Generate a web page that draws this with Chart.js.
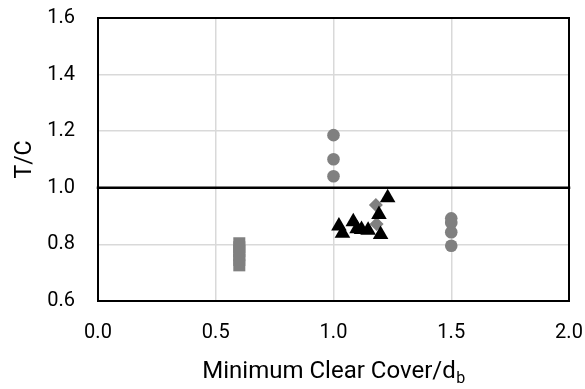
<!DOCTYPE html>
<html><head><meta charset="utf-8">
<script src="https://cdn.jsdelivr.net/npm/chart.js@4"></script>
<style>html,body{margin:0;padding:0;background:#fff}#wrap{width:585px;height:389px}</style>
</head><body><div id="wrap"><canvas id="c" width="585" height="389"></canvas></div>
<script>
// ---- data ----
const xTicks = [0.0, 0.5, 1.0, 1.5, 2.0];
const yTicks = [0.6, 0.8, 1.0, 1.2, 1.4, 1.6];
const circleX = [1.0, 1.0, 1.0, 1.5, 1.5, 1.5, 1.5];
const circleY = [1.186, 1.101, 1.041, 0.892, 0.876, 0.843, 0.795];
const squareX = [0.6, 0.6, 0.6, 0.6, 0.6, 0.6];
const squareY = [0.804, 0.79, 0.777, 0.762, 0.745, 0.726];
const diamondX = [1.18, 1.183];
const diamondY = [0.939, 0.872];
const triangleX = [1.023, 1.038, 1.084, 1.10, 1.119, 1.147, 1.193, 1.20, 1.23];
const triangleY = [0.865, 0.839, 0.880, 0.855, 0.853, 0.850, 0.906, 0.835, 0.965];
const refX = [0, 2];
const refY = [1.0, 1.0];
const xTitleMain = 'Minimum Clear Cover/d';
const xTitleSub = 'b';
const yTitle = 'T/C';

const pts = (xs, ys) => xs.map((x, i) => ({x: x, y: ys[i]}));
const FONT = 'Roboto';
const GRAY = '#808080';
const zeroPad = s => { s.paddingTop = 0; s.paddingBottom = 0; s.paddingLeft = 0; s.paddingRight = 0; };

const frame = {
  id: 'frame',
  beforeDatasetsDraw(chart) {
    const {ctx, chartArea: a} = chart;
    ctx.save();
    ctx.strokeStyle = '#000';
    ctx.lineWidth = 2;
    ctx.strokeRect(a.left, a.top, a.right - a.left, a.bottom - a.top);
    ctx.restore();
  },
  afterDraw(chart) {
    const {ctx, chartArea: a} = chart;
    ctx.save();
    ctx.fillStyle = '#000';
    ctx.textBaseline = 'alphabetic';
    ctx.font = '24px ' + FONT;
    const wMain = ctx.measureText(xTitleMain).width;
    ctx.font = '16px ' + FONT;
    const wSub = ctx.measureText(xTitleSub).width;
    const cx = (a.left + a.right) / 2;
    const x0 = cx - (wMain + wSub) / 2;
    const base = a.bottom + 77;
    ctx.font = '24px ' + FONT;
    ctx.fillText(xTitleMain, x0, base);
    ctx.font = '16px ' + FONT;
    ctx.fillText(xTitleSub, x0 + wMain + 0.5, base + 5);
    ctx.restore();
  }
};

new Chart(document.getElementById('c'), {
  type: 'scatter',
  data: {
    datasets: [
      {label: 'tri', data: pts(triangleX, triangleY), pointStyle: 'triangle', pointRadius: 9, backgroundColor: '#000', borderColor: '#000', borderWidth: 0},
      {label: 'dia', data: pts(diamondX, diamondY), pointStyle: 'rectRot', pointRadius: 7, backgroundColor: GRAY, borderColor: GRAY, borderWidth: 0},
      {label: 'sq', data: pts(squareX, squareY), pointStyle: 'rect', pointRadius: 8.5, backgroundColor: GRAY, borderColor: GRAY, borderWidth: 0},
      {label: 'circ', data: pts(circleX, circleY), pointStyle: 'circle', pointRadius: 6.3, backgroundColor: GRAY, borderColor: GRAY, borderWidth: 0},
      {label: 'ref', type: 'line', data: pts(refX, refY), showLine: true, borderColor: '#000', borderWidth: 2.5, pointRadius: 0, borderCapStyle: 'square', clip: false, fill: false}
    ]
  },
  options: {
    responsive: false,
    devicePixelRatio: 1,
    animation: false,
    events: [],
    layout: {autoPadding: false, padding: {top: 18, right: 16, left: 0, bottom: 0}},
    plugins: {legend: {display: false}, tooltip: {enabled: false}},
    scales: {
      x: {
        type: 'linear', min: 0, max: 2,
        afterBuildTicks: s => { s.ticks = xTicks.map(v => ({value: v})); },
        afterFit: s => { s.height = 88; zeroPad(s); },
        ticks: {callback: v => Number(v).toFixed(1), font: {family: FONT, size: 20}, color: '#000', padding: 20, maxRotation: 0},
        grid: {color: '#d9d9d9', lineWidth: 1.5, drawTicks: false},
        border: {display: false},
        title: {display: false}
      },
      y: {
        type: 'linear', min: 0.6, max: 1.6,
        afterBuildTicks: s => { s.ticks = yTicks.map(v => ({value: v})); },
        afterFit: s => { s.width = 98; zeroPad(s); },
        ticks: {callback: v => Number(v).toFixed(1), font: {family: FONT, size: 20}, color: '#000', padding: 23},
        grid: {color: '#d9d9d9', lineWidth: 1.5, drawTicks: false},
        border: {display: false},
        title: {display: true, text: yTitle, font: {family: FONT, size: 23}, color: '#000', padding: {top: 11, bottom: 0}}
      }
    }
  },
  plugins: [frame]
});
</script></body></html>
